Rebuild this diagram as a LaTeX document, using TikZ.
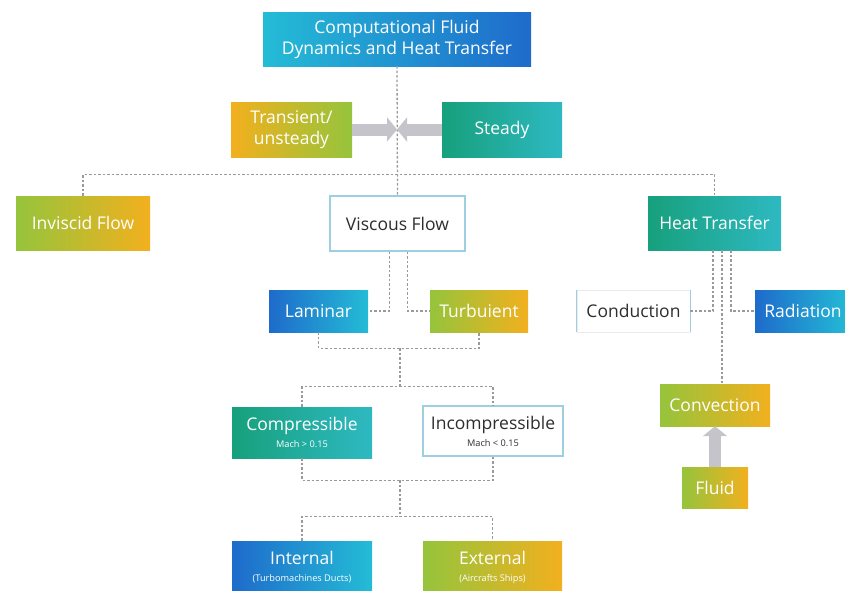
\documentclass[tikz,border=0pt]{standalone}
\usepackage{fontspec}
\setmainfont{Open Sans}
\usetikzlibrary{arrows.meta,calc}
\definecolor{cOrange}{HTML}{F2B01E}
\definecolor{cGreen}{HTML}{95C43C}
\definecolor{cTeal}{HTML}{17A07C}
\definecolor{cTealR}{HTML}{2EB9C2}
\definecolor{cCyan}{HTML}{24BCD6}
\definecolor{cBlue}{HTML}{1E6BCB}
\definecolor{cGrayArrow}{HTML}{C4C4CA}
\definecolor{cLine}{HTML}{9A9A9A}
\definecolor{cBorder}{HTML}{9CCFE2}
\definecolor{cText}{HTML}{2E2E2E}
\newcommand\subtxt{\fontsize{9.2}{11}\selectfont}
\tikzset{
  box/.style={rectangle, inner sep=0pt, align=center, text=white, font=\fontsize{17.5}{21}\selectfont},
  og/.style={box, left color=cOrange, right color=cGreen},
  go/.style={box, left color=cGreen, right color=cOrange},
  tc/.style={box, left color=cTeal, right color=cTealR},
  cb/.style={box, left color=cCyan, right color=cBlue},
  bc/.style={box, left color=cBlue, right color=cCyan},
  wb/.style={box, fill=white, draw=cBorder, line width=1.3pt, text=cText},
  conn/.style={draw=cLine, line width=1.3pt, dash pattern=on 2.5pt off 2pt},
  bigarrow/.style={draw=cGrayArrow, line width=12pt, -{Triangle[length=10pt,width=24pt]}}
}
\begin{document}
\begin{tikzpicture}[x=1pt,y=-1pt]
\useasboundingbox (0,0) rectangle (845,590);
\clip (0,0) rectangle (845,590);
% nodes
\node[cb, minimum width=268, minimum height=54] (cfd) at (397,39) {Computational Fluid\\Dynamics and Heat Transfer};
\node[og, minimum width=121, minimum height=55] (trans) at (291.5,129.5) {Transient/\\unsteady};
\node[tc, minimum width=120, minimum height=55] (steady) at (502,129.5) {Steady};
\node[go, minimum width=134, minimum height=54] (invisc) at (83,223) {Inviscid Flow};
\node[wb, minimum width=135, minimum height=55] (visc) at (397.5,223.5) {Viscous Flow};
\node[tc, minimum width=133, minimum height=54] (heat) at (714.5,223) {Heat Transfer};
\node[bc, minimum width=99, minimum height=42] (lam) at (318.5,311) {Laminar};
\node[go, minimum width=98, minimum height=42] (turb) at (479,311) {Turbuient};
\node[box, fill=white, draw=black!8, line width=0.8pt, text=cText, minimum width=113, minimum height=42] (cond) at (633.5,311) {Conduction};
\draw[cBorder, line width=1.3pt] (cond.north west) -- (cond.south west) (cond.north east) -- (cond.south east);
\node[bc, minimum width=96, minimum height=42] (rad) at (803,311) {Radiation};
\node[tc, minimum width=140, minimum height=51] (comp) at (302,432.5) {Compressible\\[-4pt]{\subtxt Mach > 0.15}};
\node[wb, minimum width=140, minimum height=50] (incomp) at (493,431) {Incompressible\\[-4pt]{\subtxt Mach < 0.15}};
\node[go, minimum width=110, minimum height=42] (conv) at (715,405) {Convection};
\node[go, minimum width=66, minimum height=41] (fluid) at (715,487.5) {Fluid};
\node[bc, minimum width=140, minimum height=52] (int) at (302,567) {Internal\\[-4pt]{\subtxt (Turbomachines Ducts)}};
\node[go, minimum width=139, minimum height=52] (ext) at (492.5,567) {External\\[-4pt]{\subtxt (Aircrafts Ships)}};
% junction coordinates
\coordinate (c1) at (397,129.5);
\coordinate (j1) at (400,348);
\coordinate (j2) at (400,387);
\coordinate (j3) at (400,480);
\coordinate (j4) at (400,517);
% connectors
\path[conn] (cfd.south) -- (visc.north);
\path[conn] (invisc.north) -- ++(0,-21) -| (heat.north);
\path[conn] ([xshift=-8]visc.south) |- (lam.east);
\path[conn] ([xshift=10]visc.south) |- (turb.west);
\path[conn] (lam.south) -- ++(0,16) -| (turb.south);
\path[conn] (j1) -- (j2);
\path[conn] (comp.north) -- ++(0,-20) -| (incomp.north);
\path[conn] (comp.south) -- ++(0,22) -| (incomp.south);
\path[conn] (j3) -- (j4);
\path[conn] (int.north) -- ++(0,-24) -| (ext.north);
\path[conn] ([xshift=-1.5]heat.south) |- (cond.east);
\path[conn] ([xshift=16.5]heat.south) |- (rad.west);
\path[conn] ([xshift=7.5]heat.south) -- ([xshift=7.5]heat.south |- conv.north);
% gray arrows
\draw[bigarrow] (trans.east) -- (c1);
\draw[bigarrow] (steady.west) -- (c1);
\draw[bigarrow] (fluid.north) -- (conv.south);
\end{tikzpicture}
\end{document}
